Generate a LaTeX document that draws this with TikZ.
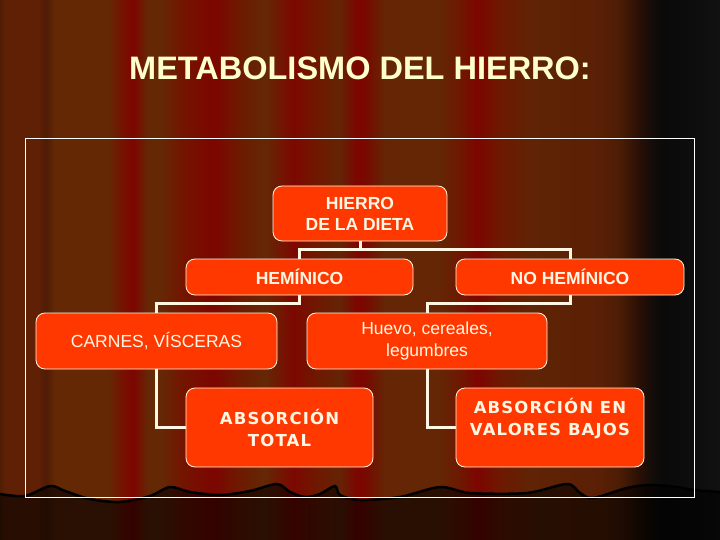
\documentclass[tikz,border=0pt]{standalone}
\usepackage{fontspec}
\setmainfont{Liberation Sans}
\newfontfamily\wideface[LetterSpace=7]{DejaVu Sans}
\usetikzlibrary{positioning,backgrounds}
\definecolor{boxred}{RGB}{255,56,0}
\definecolor{cream}{RGB}{255,247,228}
\definecolor{titlecream}{RGB}{255,255,204}
\pgfdeclarehorizontalshading{curtain}{100bp}{%
  rgb(0bp)=(.314,.118,.020); rgb(25bp)=(.314,.118,.020);
  rgb(25.35bp)=(.373,.125,.020); rgb(27.64bp)=(.373,.125,.020);
  rgb(28.19bp)=(.314,.110,.020); rgb(28.82bp)=(.392,.157,.020);
  rgb(32.5bp)=(.392,.157,.020); rgb(33.68bp)=(.471,.059,0);
  rgb(34.24bp)=(.490,.020,0); rgb(35.28bp)=(.392,.157,.020);
  rgb(36.25bp)=(.392,.157,.020); rgb(37.5bp)=(.451,.086,0);
  rgb(39.79bp)=(.490,.020,0); rgb(41.53bp)=(.431,.098,0);
  rgb(43.4bp)=(.392,.157,.020); rgb(45.35bp)=(.490,.031,0);
  rgb(47.08bp)=(.431,.098,0); rgb(48.61bp)=(.392,.141,.020);
  rgb(49.79bp)=(.490,.020,0); rgb(50.42bp)=(.471,.039,0);
  rgb(51.74bp)=(.392,.149,.020); rgb(55.56bp)=(.392,.149,.020);
  rgb(57.08bp)=(.439,.086,0); rgb(58.13bp)=(.490,.020,0);
  rgb(59.72bp)=(.431,.098,0); rgb(61.81bp)=(.376,.137,.020);
  rgb(66.67bp)=(.353,.125,.020); rgb(68.06bp)=(.294,.110,.020);
  rgb(69.44bp)=(.157,.059,.020); rgb(70.49bp)=(.059,.047,.039);
  rgb(71.18bp)=(.039,.039,.039); rgb(73.61bp)=(.055,.055,.055);
  rgb(75bp)=(.067,.067,.067); rgb(100bp)=(.067,.067,.067)}

\begin{document}
\begin{tikzpicture}[
  x=1pt, y=-1pt,
  box/.style={draw=cream,line width=0.8pt,fill=boxred,rounded corners=9pt,
    align=center,inner sep=0pt,text=cream},
  boldbox/.style={box,font=\fontsize{17.5}{21}\selectfont\bfseries},
  plainbox/.style={box,font=\fontsize{17.5}{22}\selectfont},
  widebox/.style={box,font=\fontsize{16.5}{22}\selectfont\wideface\bfseries},
  conn/.style={draw=cream,line width=3pt},
  fringe/.style={black,line width=2.5pt},
]
\useasboundingbox (0,0) rectangle (720,540);
% curtain and floor
\shade[shading=curtain] (0,0) rectangle (720,540);
\def\fringepts{(0,494) (25,496) (50,486) (65,491) (90,499) (120,502) (150,496)
  (170,487) (190,492) (220,495) (250,491) (277,484) (290,492) (305,497)
  (320,494) (335,486) (340,495) (360,500) (400,497) (440,487) (470,493)
  (527,493) (567,484) (580,493) (593,498) (627,488) (650,485) (677,487)
  (693,490) (720,492)}
\fill[black,opacity=0.58] plot[smooth,tension=0.5] coordinates \fringepts
  -- (720,540) -- (0,540) -- cycle;
\draw[fringe] plot[smooth,tension=0.5] coordinates \fringepts;
\draw[white,line width=1pt] (25,139) rectangle (694,497);

\node[text=titlecream,font=\fontsize{32.5}{36}\selectfont\bfseries] (title) at (360,68) {METABOLISMO DEL HIERRO:};

\node[boldbox,minimum width=174,minimum height=55] (diet) at (360,213.5) {HIERRO\\DE LA DIETA};
\node[boldbox,minimum width=227,minimum height=36] (hem) at (299.5,277) {HEMÍNICO};
\node[boldbox,minimum width=228,minimum height=36] (nohem) at (570,277) {NO HEMÍNICO};
\node[plainbox,minimum width=241,minimum height=56] (carnes) at (156.5,341) {CARNES, VÍSCERAS};
\node[plainbox,minimum width=240,minimum height=56] (huevo) at (427,341) {Huevo, cereales,\\legumbres};
\node[widebox,minimum width=187,minimum height=79] (abstot) at (279.5,427.5) {ABSORCIÓN\\TOTAL};
\node[widebox,minimum width=188,minimum height=79] (absbaj) at (550,427.5) {ABSORCIÓN EN\\VALORES BAJOS\\\mbox{}};

\draw[conn] (diet.south) -- ++(0,8) coordinate (split);
\draw[conn] (hem.north) |- (split) -| (nohem.north);
\draw[conn] (hem.south) -- ++(0,8) -| (carnes.north);
\draw[conn] (nohem.south) -- ++(0,8) -| (huevo.north);
\draw[conn] (carnes.south) |- (abstot.west);
\draw[conn] (huevo.south) |- (absbaj.west);
\end{tikzpicture}
\end{document}
